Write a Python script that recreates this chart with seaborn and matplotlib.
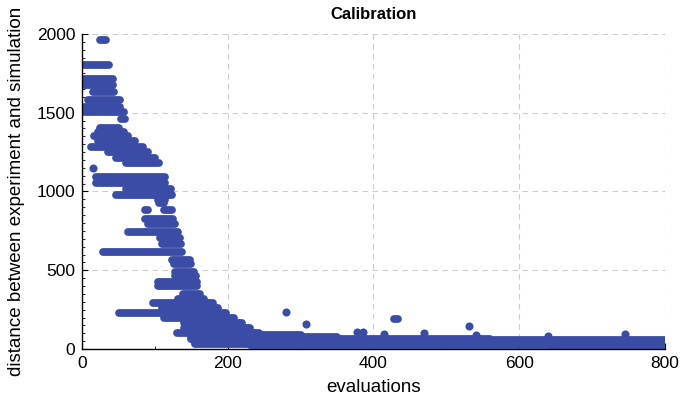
import numpy as np
import pandas as pd
import matplotlib
matplotlib.use("Agg")
import matplotlib.pyplot as plt
import seaborn as sns
from matplotlib.ticker import MultipleLocator

# distance values that were held over a stretch of evaluations
run_dist = [1960, 1800, 1714, 1676, 1632, 1581, 1537, 1505, 1460,
            1403, 1378, 1350, 1320, 1283, 1251, 1213, 1181,
            1092, 1054, 1016, 978, 946, 925, 882, 882,
            825, 794, 743, 705, 667, 616,
            565, 540, 490, 465, 425, 400,
            350, 320, 292, 260, 229, 197, 165, 133, 102,
            87, 75, 64, 56, 45, 35, 28, 15, 190]
run_start = [25, 3, 3, 3, 15, 8, 3, 3, 53,
             25, 22, 16, 22, 12, 35, 46, 60,
             19, 19, 60, 46, 104, 105, 86, 113,
             87, 90, 63, 107, 110, 29,
             124, 126, 128, 128, 104, 104,
             138, 132, 97, 110, 50, 112, 140, 140, 130,
             150, 150, 150, 152, 155, 155, 231, 644, 428]
run_end = [33, 37, 42, 43, 44, 52, 52, 57, 59,
           51, 57, 63, 72, 83, 91, 100, 105,
           114, 114, 122, 124, 114, 113, 91, 124,
           125, 128, 131, 135, 136, 137,
           148, 150, 153, 157, 158, 158,
           162, 168, 180, 187, 197, 208, 220, 230, 243,
           300, 350, 560, 800, 800, 800, 800, 800, 433]

# single evaluations standing apart
dot_eval = [15, 280, 307, 378, 385, 414, 469, 531, 541, 639, 745]
dot_dist = [1149, 235, 159, 108, 108, 95, 102, 146, 89, 83, 95]

BLUE = "#3a4ca6"

plt.rcParams["font.family"] = ["Liberation Sans", "DejaVu Sans"]

runs = pd.DataFrame({
    "run": np.repeat(np.arange(len(run_dist)), 2),
    "evaluations": np.column_stack([run_start, run_end]).ravel(),
    "distance": np.repeat(run_dist, 2),
})

fig, ax = plt.subplots(figsize=(6.84, 4.04), dpi=100)
fig.subplots_adjust(left=0.12, right=0.972, bottom=0.136, top=0.916)

sns.lineplot(data=runs, x="evaluations", y="distance", units="run",
             estimator=None, sort=False, color=BLUE, lw=5.6,
             solid_capstyle="round", legend=False, ax=ax)
sns.scatterplot(x=dot_eval, y=dot_dist, color=BLUE, s=34, linewidth=0, ax=ax)

ax.set_xlim(0, 800)
ax.set_ylim(0, 2000)
ax.xaxis.set_major_locator(MultipleLocator(200))
ax.xaxis.set_minor_locator(MultipleLocator(100))
ax.yaxis.set_major_locator(MultipleLocator(500))
ax.yaxis.set_minor_locator(MultipleLocator(50))

ax.set_axisbelow(True)
ax.grid(True, which="major", linestyle=(0, (5, 4)), color="#cccccc", lw=0.8)
for side in ["top", "right"]:
    ax.spines[side].set_visible(False)
for side in ["left", "bottom"]:
    ax.spines[side].set_color("black")
    ax.spines[side].set_linewidth(1.0)

ax.tick_params(which="major", direction="in", length=4, width=0.8,
               labelsize=12.5, colors="black", pad=5)
ax.tick_params(which="minor", direction="in", length=2.5, width=0.6, colors="black")

ax.set_xlabel("evaluations", fontsize=13.5, labelpad=6)
ax.set_ylabel("distance between experiment and simulation", fontsize=13.5, labelpad=8)
ax.set_title("Calibration", fontsize=12, fontweight="bold", pad=11)

fig.savefig("out.png", dpi=100)
